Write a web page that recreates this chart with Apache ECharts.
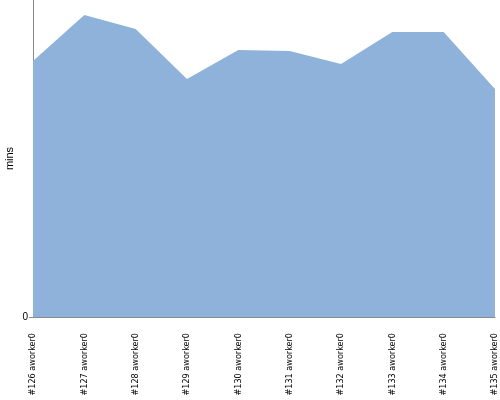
<!DOCTYPE html>
<html><head><meta charset="utf-8">
<script src="https://cdn.jsdelivr.net/npm/echarts@6/dist/echarts.min.js"></script>
<style>html,body{margin:0;padding:0;background:#fff}#c{width:500px;height:400px}</style>
</head><body><div id="c"></div>
<script>
const categories = ["#126 aworker0","#127 aworker0","#128 aworker0","#129 aworker0","#130 aworker0","#131 aworker0","#132 aworker0","#133 aworker0","#134 aworker0","#135 aworker0"];
const minsValues = [256, 302, 288, 238, 267, 266, 253, 285, 285, 228];
const yTicks = [0];
const yMax = 317;

const chart = echarts.init(document.getElementById('c'), null, {renderer:'canvas'});
chart.setOption({
  animation: false,
  grid: {left: 33, right: 5, top: 0, bottom: 83, containLabel: false, outerBoundsMode: 'none'},
  xAxis: {
    type: 'category', data: categories, boundaryGap: false,
    axisLine: {show: true, lineStyle: {color: '#8a8a8a'}},
    axisTick: {show: false},
    axisLabel: {rotate: 90, interval: 0, margin: 16, fontSize: 9, color: '#000', fontFamily: 'DejaVu Sans Condensed'}
  },
  yAxis: {
    type: 'value', min: 0, max: yMax,
    name: 'mins', nameLocation: 'middle', nameGap: 18, nameRotate: 90, nameMoveOverlap: false,
    nameTextStyle: {fontSize: 11, color: '#000', fontFamily: 'Liberation Sans'},
    axisLine: {show: true, lineStyle: {color: '#8a8a8a'}},
    axisTick: {show: true, length: 4, customValues: yTicks, lineStyle: {color: '#8a8a8a'}},
    splitLine: {show: false},
    axisLabel: {fontSize: 10, color: '#000', margin: 5, fontFamily: 'Liberation Sans', customValues: yTicks}
  },
  series: [{
    type: 'line', data: minsValues, symbol: 'none',
    lineStyle: {width: 0, color: '#8FB2DB'},
    areaStyle: {color: '#8FB2DB', opacity: 1}
  }]
});
</script></body></html>
